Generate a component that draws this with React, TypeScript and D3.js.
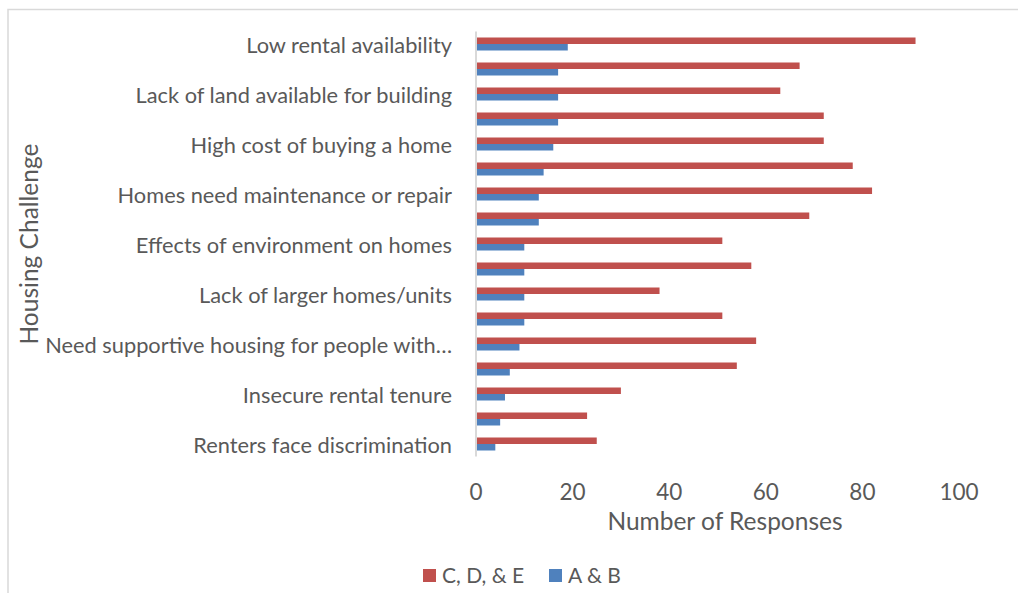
import React from "react";
import * as d3 from "d3";

// Survey responses per housing challenge, by community group
const categories = [
  "Low rental availability",
  "High cost of renting",
  "Lack of land available for building",
  "Lack of housing for seniors",
  "High cost of buying a home",
  "Overcrowding",
  "Homes need maintenance or repair",
  "High cost of utilities",
  "Effects of environment on homes",
  "Lack of smaller homes/units",
  "Lack of larger homes/units",
  "Poor quality construction",
  "Need supportive housing for people with disabilities",
  "Long waitlists for housing",
  "Insecure rental tenure",
  "Homelessness",
  "Renters face discrimination",
];
// Only every other category label is printed along the axis
const shownLabels = [
  "Low rental availability",
  "Lack of land available for building",
  "High cost of buying a home",
  "Homes need maintenance or repair",
  "Effects of environment on homes",
  "Lack of larger homes/units",
  "Need supportive housing for people with…",
  "Insecure rental tenure",
  "Renters face discrimination",
];
const cdeValues = [91, 67, 63, 72, 72, 78, 82, 69, 51, 57, 38, 51, 58, 54, 30, 23, 25];
const abValues = [19, 17, 17, 17, 16, 14, 13, 13, 10, 10, 10, 10, 9, 7, 6, 5, 4];
const seriesNames = ["C, D, & E", "A & B"];
const seriesColors = ["#C0504D", "#4F81BD"];
const xTicks = [0, 20, 40, 60, 80, 100];

const W = 1018;
const H = 593;
const FONT = "Lato, 'Open Sans', sans-serif";
const TEXT = "#595959";

export default function App() {
  const left = 476;
  const right = 959;
  const top = 31.5;
  const bottom = 456.5;

  const x = d3.scaleLinear().domain([0, 100]).range([left, right]);
  const y = d3.scaleBand<string>().domain(categories).range([top, bottom]).paddingInner(0.48).paddingOuter(0.24);
  const inner = d3.scaleBand<string>().domain(seriesNames).range([0, y.bandwidth()]);

  const series = [cdeValues, abValues];

  return (
    <svg width={W} height={H} style={{ position: "absolute", left: 0, top: 0, background: "#fff" }}>
      <rect x={8} y={9.5} width={W + 20} height={H + 20} fill="none" stroke="#d9d9d9" strokeWidth={1.5} />

      {categories.map((c, i) => (
        <g key={c}>
          {series.map((vals, s) => (
            <rect
              key={s}
              x={x(0)}
              y={(y(c) as number) + (inner(seriesNames[s]) as number)}
              width={x(vals[i]) - x(0)}
              height={inner.bandwidth()}
              fill={seriesColors[s]}
            />
          ))}
        </g>
      ))}

      <line x1={x(0)} x2={x(0)} y1={top} y2={bottom} stroke="#d9d9d9" strokeWidth={2} />

      {categories.map((c, i) =>
        i % 2 === 0 ? (
          <text
            key={c}
            x={452}
            y={(y(c) as number) + y.bandwidth() / 2}
            textAnchor="end"
            dominantBaseline="central"
            fontFamily={FONT}
            fontSize={21.8}
            fill={TEXT}
          >
            {shownLabels[i / 2]}
          </text>
        ) : null
      )}

      {xTicks.map((t) => (
        <text key={t} x={x(t)} y={500} textAnchor="middle" fontFamily={FONT} fontSize={22.5} fill={TEXT}>
          {t}
        </text>
      ))}

      <text x={725} y={530} textAnchor="middle" fontFamily={FONT} fontSize={24.5} fill={TEXT}>
        Number of Responses
      </text>
      <text
        transform={`translate(38, 244) rotate(-90)`}
        textAnchor="middle"
        fontFamily={FONT}
        fontSize={24.5}
        fill={TEXT}
      >
        Housing Challenge
      </text>

      {seriesNames.map((n, s) => {
        const lx = s === 0 ? 423 : 549;
        return (
          <g key={n}>
            <rect x={lx} y={569} width={13} height={13} fill={seriesColors[s]} />
            <text x={lx + 19} y={582.5} fontFamily={FONT} fontSize={21} fill={TEXT}>
              {n}
            </text>
          </g>
        );
      })}
    </svg>
  );
}
